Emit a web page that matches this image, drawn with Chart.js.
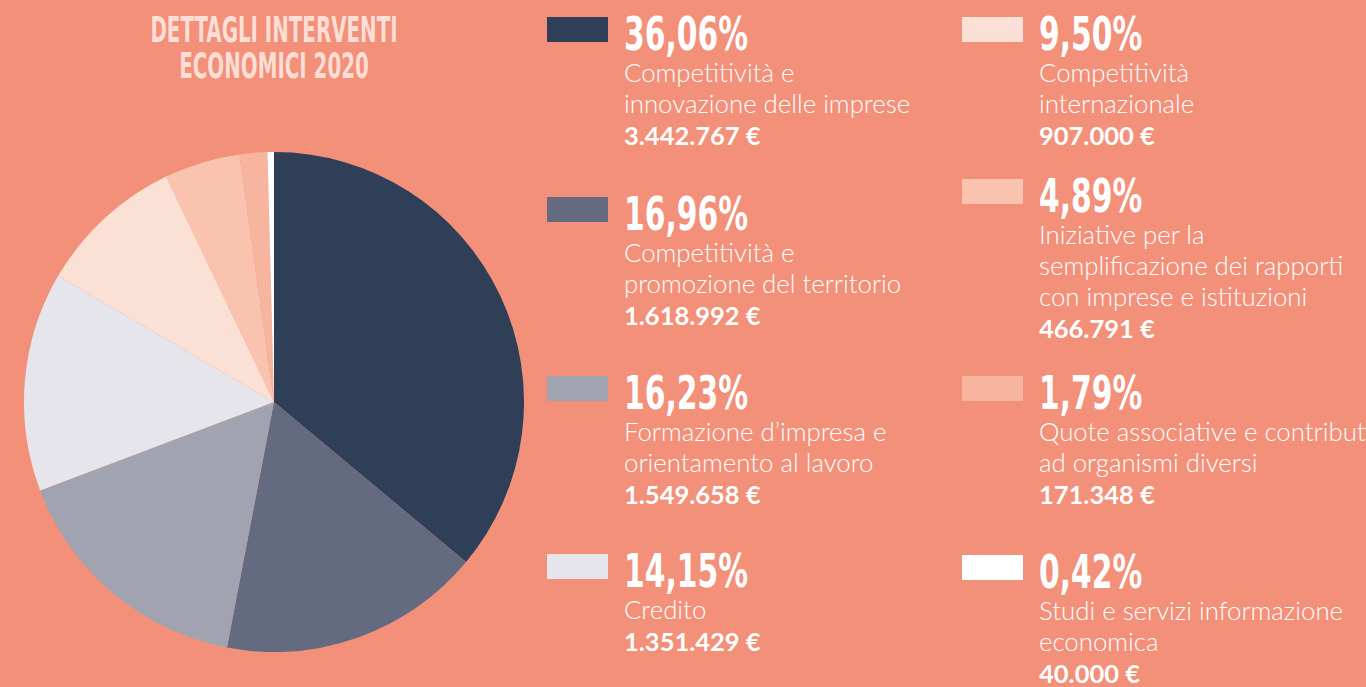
<!DOCTYPE html>
<html>
<head>
<meta charset="utf-8">
<script src="https://cdn.jsdelivr.net/npm/chart.js@4"></script>
<style>
  html, body { margin: 0; padding: 0; }
  body {
    width: 1366px; height: 687px; overflow: hidden; position: relative;
    background: #F2907A; font-family: Lato, "Open Sans", sans-serif; color: #fff;
  }
  #title {
    position: absolute; left: 74px; top: 12px; width: 400px; text-align: center;
    font-family: "Liberation Sans Narrow", "DejaVu Sans Condensed", sans-serif;
    font-weight: bold; font-size: 35px; line-height: 36px; color: #FDDED5;
    transform: scaleX(0.63);
  }
  #chart-box { position: absolute; left: 24px; top: 152px; width: 500px; height: 500px; }
  .entry { position: absolute; width: 330px; }
  .swatch { position: absolute; width: 61px; height: 25px; }
  .txt { position: absolute; left: 77px; white-space: nowrap; }
  .pct {
    font-family: "Liberation Sans Narrow", "DejaVu Sans Condensed", sans-serif;
    font-weight: bold; font-size: 46px; line-height: 46px;
    transform: scaleX(0.72); transform-origin: left center;
  }
  .lbl { font-size: 25.8px; line-height: 31px; font-weight: 300; }
  .val { font-size: 25.5px; line-height: 32px; font-weight: bold; }
</style>
</head>
<body>
<div id="title">DETTAGLI INTERVENTI<br>ECONOMICI 2020</div>
<div id="chart-box"><canvas id="pie" width="500" height="500"></canvas></div>
<div id="legend"></div>
<script>
const categories = [
  "Competitività e<br>innovazione delle imprese",
  "Competitività e<br>promozione del territorio",
  "Formazione d’impresa e<br>orientamento al lavoro",
  "Credito",
  "Competitività<br>internazionale",
  "Iniziative per la<br>semplificazione dei rapporti<br>con imprese e istituzioni",
  "Quote associative e contributi<br>ad organismi diversi",
  "Studi e servizi informazione<br>economica"
];
const amounts = [3442767, 1618992, 1549658, 1351429, 907000, 466791, 171348, 40000];
const percentLabels = ["36,06%", "16,96%", "16,23%", "14,15%", "9,50%", "4,89%", "1,79%", "0,42%"];
const amountLabels = ["3.442.767 €", "1.618.992 €", "1.549.658 €", "1.351.429 €", "907.000 €", "466.791 €", "171.348 €", "40.000 €"];
const colors = ["#2E3F57", "#646B80", "#A2A3B0", "#E6E5EB", "#FBE0D6", "#F9C3B0", "#F7B5A0", "#FFFFFF"];

// legend positions (left x, top y of swatch)
const legendPos = [
  [547, 17], [547, 197], [547, 376], [547, 554],
  [962, 17], [962, 179], [962, 376], [962, 555]
];

const legend = document.getElementById("legend");
for (let i = 0; i < categories.length; i++) {
  const e = document.createElement("div");
  e.className = "entry";
  e.style.left = legendPos[i][0] + "px";
  e.style.top = legendPos[i][1] + "px";
  e.innerHTML =
    '<div class="swatch" style="background:' + colors[i] + '"></div>' +
    '<div class="txt" style="top:-6px">' +
    '<div class="pct">' + percentLabels[i] + '</div>' +
    '<div class="lbl">' + categories[i] + '</div>' +
    '<div class="val">' + amountLabels[i] + '</div></div>';
  legend.appendChild(e);
}

const ctx = document.getElementById("pie").getContext("2d");
new Chart(ctx, {
  type: 'pie',
  data: {
    labels: categories.map(c => c.replace(/<br>/g, " ")),
    datasets: [{
      data: amounts,
      backgroundColor: colors,
      borderWidth: 0
    }]
  },
  options: {
    responsive: false,
    animation: false,
    layout: { padding: 0 },
    plugins: {
      legend: { display: false },
      tooltip: { enabled: false }
    }
  }
});
</script>
</body>
</html>
